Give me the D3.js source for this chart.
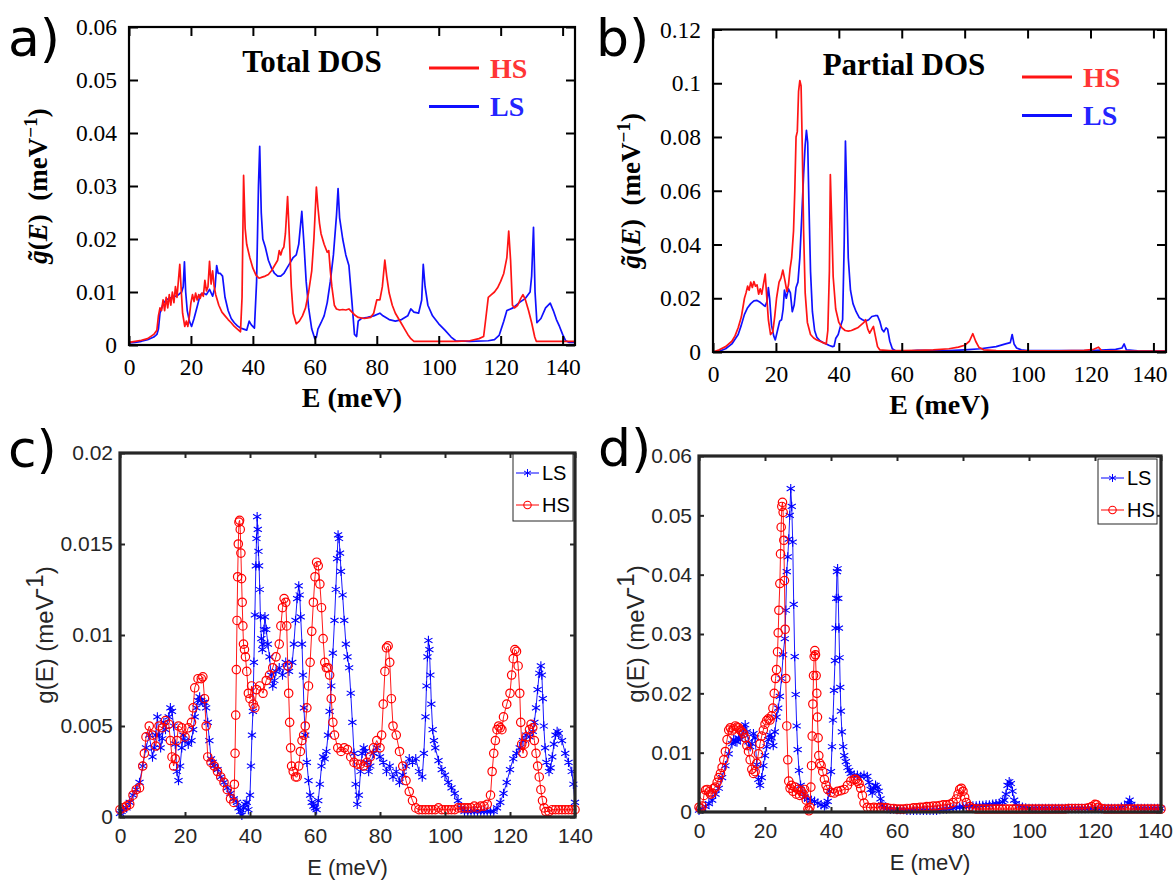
<!DOCTYPE html>
<html><head><meta charset="utf-8">
<script src="https://cdn.jsdelivr.net/npm/d3@7"></script>
<style>
html,body{margin:0;padding:0;background:#fff;}
svg{display:block;}
text{white-space:pre;}
</style></head>
<body>
<svg id="chart" width="1174" height="881"></svg>
<script>
// ---------------- DATA ----------------
const xTicks = [0, 20, 40, 60, 80, 100, 120, 140];
const yTicksA = [0, 0.01, 0.02, 0.03, 0.04, 0.05, 0.06];
const yTicksB = [0, 0.02, 0.04, 0.06, 0.08, 0.1, 0.12];
const yTicksC = [0, 0.005, 0.01, 0.015, 0.02];
const yTicksD = [0, 0.01, 0.02, 0.03, 0.04, 0.05, 0.06];
const seriesNames = ["HS", "LS"];

// (a) Total DOS  [E (meV), g (meV^-1)]
const totalHS = [[0,0.0005],[2,0.0007],[4,0.0009],[6,0.0012],[8,0.002],[9,0.0028],[9.5,0.0055],[10,0.007],[10.5,0.0065],[11,0.0085],[11.5,0.0065],[12,0.009],[12.5,0.007],[13,0.0095],[13.5,0.0075],[14,0.01],[14.5,0.008],[15,0.011],[15.5,0.009],[16,0.0125],[16.4,0.0152],[16.8,0.011],[17.3,0.006],[18,0.0035],[18.5,0.0045],[19,0.0035],[19.5,0.0055],[20,0.008],[20.5,0.0095],[21,0.0082],[21.5,0.0098],[22,0.0085],[22.5,0.0095],[23,0.0088],[23.5,0.0098],[24,0.0092],[24.5,0.0122],[25,0.0102],[25.5,0.011],[26,0.0158],[26.5,0.0115],[27,0.014],[27.5,0.011],[28,0.0095],[29,0.0075],[30,0.0062],[31,0.0055],[32,0.0048],[33,0.0042],[34,0.0035],[35,0.003],[36,0.0025],[36.5,0.009],[37,0.032],[37.5,0.022],[38,0.019],[39,0.0165],[40,0.0145],[41,0.0132],[42,0.0126],[43,0.0128],[44,0.013],[45,0.0133],[46,0.014],[47,0.015],[48,0.016],[48.5,0.0178],[49,0.017],[49.5,0.018],[50,0.0185],[50.5,0.021],[51.2,0.028],[51.8,0.02],[52.4,0.011],[53,0.006],[54,0.004],[55,0.0045],[56,0.0055],[57,0.007],[58,0.01],[59,0.014],[59.7,0.02],[60.5,0.0298],[61,0.026],[61.5,0.023],[62,0.021],[63,0.019],[64,0.0175],[64.5,0.0178],[65,0.014],[65.5,0.011],[66.3,0.0075],[67,0.0068],[68,0.0066],[69,0.0067],[70,0.0066],[71,0.0068],[72,0.0062],[73,0.0056],[74,0.0052],[76,0.005],[78,0.0052],[79,0.006],[80,0.0085],[81,0.0085],[81.8,0.011],[82.6,0.016],[83.2,0.013],[84,0.0098],[85,0.0075],[86,0.006],[87,0.005],[88,0.004],[89,0.003],[90,0.002],[91,0.0012],[92,0.0007],[100,0.0007],[106,0.0007],[110,0.0008],[113,0.0012],[114.5,0.0016],[115.2,0.005],[116,0.009],[117,0.0095],[118,0.01],[119,0.0108],[120,0.012],[121,0.0135],[122,0.0165],[122.6,0.0215],[123.2,0.016],[123.8,0.0075],[124.5,0.007],[125.5,0.0075],[126.5,0.0088],[127.2,0.0095],[128,0.0085],[129,0.0065],[130,0.0042],[131,0.0015],[131.5,0.0007],[135,0.0007],[140,0.0007],[144,0.0007]];
const totalLS = [[0,0.0004],[2,0.0005],[4,0.0007],[6,0.001],[8,0.0015],[9,0.002],[9.5,0.003],[10,0.006],[11,0.0078],[12,0.0085],[13,0.0088],[14,0.009],[15,0.0092],[16,0.0095],[17,0.01],[17.5,0.011],[17.9,0.0157],[18.3,0.01],[18.8,0.0065],[19.5,0.0045],[20.2,0.0035],[21,0.005],[22,0.0072],[23,0.0095],[24,0.0098],[25,0.0095],[26,0.0105],[27,0.0092],[27.8,0.011],[28.3,0.015],[28.8,0.0135],[29.5,0.0135],[30.2,0.013],[31,0.009],[32,0.0065],[33,0.005],[34,0.0042],[35,0.0036],[36,0.0032],[37,0.003],[38,0.0028],[38.8,0.0045],[39.5,0.0038],[40.5,0.0032],[41.2,0.012],[41.8,0.03],[42.2,0.0375],[42.7,0.025],[43.2,0.02],[44,0.0185],[45,0.016],[46,0.0145],[47,0.0135],[48,0.013],[49,0.013],[50,0.0135],[51,0.0145],[52,0.0155],[53,0.0165],[54,0.017],[54.8,0.019],[55.8,0.0252],[56.5,0.019],[57.2,0.012],[58,0.007],[59,0.003],[60,0.0012],[60.5,0.0015],[61,0.003],[62,0.0042],[63,0.0055],[64,0.008],[65,0.012],[66,0.017],[67,0.0245],[67.5,0.0295],[68,0.024],[69,0.02],[70,0.017],[71,0.015],[72,0.008],[72.8,0.002],[73.5,0.0016],[74,0.0045],[75,0.005],[77,0.0052],[79,0.0055],[81,0.006],[82,0.0055],[84,0.0048],[86,0.0045],[88,0.0048],[90,0.0055],[91,0.0068],[92,0.0062],[93.5,0.006],[94.5,0.0085],[95,0.0152],[95.6,0.011],[96.5,0.0075],[98,0.0055],[100,0.004],[102,0.0028],[104,0.0015],[105.5,0.0008],[110,0.0007],[116,0.0008],[118,0.001],[119.5,0.0018],[121,0.0045],[122,0.0065],[124,0.007],[126,0.008],[128,0.0088],[129.5,0.01],[130,0.013],[130.6,0.0222],[131.1,0.01],[131.7,0.0042],[133,0.005],[134.5,0.007],[136,0.0079],[137,0.0065],[138,0.0048],[139,0.0035],[140,0.002],[141,0.0008],[142,0.0005],[144,0.0005]];

// (b) Partial DOS
const partialHS = [[0,0],[2,0.0008],[4,0.002],[6,0.004],[7,0.006],[8,0.009],[9,0.013],[10,0.02],[10.5,0.022],[11,0.0245],[11.5,0.023],[12,0.026],[12.5,0.024],[13,0.0262],[13.5,0.0245],[14,0.025],[14.5,0.0215],[15,0.0235],[15.5,0.0215],[16,0.025],[16.6,0.029],[17,0.022],[17.6,0.012],[18.3,0.0065],[19,0.0075],[19.6,0.013],[20.2,0.02],[21,0.026],[21.6,0.0275],[22.2,0.0305],[22.8,0.027],[23.5,0.0225],[24,0.025],[24.5,0.031],[25,0.035],[25.6,0.045],[26,0.06],[26.4,0.08],[26.8,0.082],[27.2,0.097],[27.6,0.101],[28,0.099],[28.4,0.075],[28.8,0.045],[29.3,0.022],[30,0.011],[31,0.0065],[32,0.0052],[33,0.0045],[34,0.004],[35,0.0035],[36,0.003],[36.5,0.008],[37,0.03],[37.3,0.066],[37.7,0.05],[38.2,0.028],[39,0.016],[40,0.011],[41,0.009],[42,0.008],[43,0.0078],[44,0.008],[45,0.0085],[46,0.009],[47,0.01],[48,0.011],[48.5,0.012],[49.2,0.0085],[49.8,0.007],[50.5,0.0085],[51,0.0095],[51.6,0.006],[52.3,0.002],[53,0.0008],[56,0.0005],[60,0.0005],[65,0.0006],[70,0.0008],[75,0.0012],[78,0.0018],[80,0.0025],[81.5,0.004],[82.6,0.0068],[83.5,0.004],[84.5,0.0018],[86,0.0008],[90,0.0005],[100,0.0004],[110,0.0004],[118,0.0006],[121,0.001],[122.5,0.0018],[123.5,0.0005],[130,0.0003],[144,0.0003]];
const partialLS = [[0,0],[2,0.0003],[4,0.0012],[6,0.003],[8,0.0065],[9,0.01],[10,0.014],[11,0.0165],[12,0.018],[13,0.019],[14,0.0192],[15,0.0185],[16,0.0175],[16.6,0.017],[17.2,0.019],[17.6,0.024],[18,0.02],[18.6,0.01],[19.3,0.006],[19.8,0.0045],[20.5,0.008],[21.2,0.0115],[21.8,0.012],[22.3,0.016],[22.7,0.023],[23.3,0.02],[24,0.0235],[24.6,0.022],[25.2,0.015],[25.8,0.0175],[26.4,0.024],[27,0.026],[27.6,0.035],[28.2,0.05],[28.8,0.066],[29.3,0.077],[29.7,0.0825],[30.1,0.078],[30.5,0.055],[31,0.03],[31.6,0.015],[32.3,0.008],[33,0.0055],[34,0.0042],[35,0.0035],[36,0.003],[37,0.0024],[38,0.002],[38.5,0.0022],[39,0.005],[39.8,0.0065],[40.5,0.0095],[41.2,0.012],[41.7,0.04],[42.1,0.0785],[42.5,0.06],[43,0.035],[43.7,0.023],[44.5,0.018],[45.5,0.015],[46.5,0.0128],[47.5,0.012],[48.5,0.0115],[49.5,0.012],[50.5,0.0132],[51.5,0.0135],[52.3,0.0135],[53,0.0115],[53.7,0.0085],[54.3,0.0075],[55,0.009],[55.5,0.0085],[56.2,0.004],[57,0.0012],[58,0.0005],[62,0.0003],[65,0.0006],[70,0.0005],[75,0.0005],[80,0.0008],[85,0.0012],[90,0.002],[93,0.003],[94.5,0.0035],[95.1,0.0065],[95.7,0.003],[96.5,0.0015],[98,0.0008],[100,0.0005],[110,0.0005],[120,0.0005],[125,0.0008],[128,0.001],[130,0.0015],[130.7,0.003],[131.4,0.0008],[135,0.0004],[144,0.0003]];

// (c) g(E) total, marker series
const gTotalLS = [[0,0.0002],[0.5,0.0003],[1,0.0004],[2,0.0005],[3,0.0008],[4,0.0012],[5,0.0015],[6,0.0019],[7,0.0028],[8,0.0038],[9,0.0045],[10,0.0033],[10.5,0.0038],[11,0.0045],[11.5,0.0055],[12,0.0045],[12.5,0.0038],[13,0.0043],[13.5,0.0052],[14,0.0048],[15,0.0055],[15.5,0.006],[16,0.0058],[16.5,0.005],[17,0.004],[17.5,0.0025],[18,0.002],[18.5,0.0028],[19,0.0038],[19.5,0.0045],[20,0.0042],[21,0.004],[22,0.0042],[22.5,0.0048],[23,0.0055],[23.5,0.006],[24,0.0064],[24.5,0.0066],[25,0.0064],[25.5,0.0063],[26,0.0063],[26.5,0.006],[27,0.0052],[27.5,0.0042],[28,0.0032],[28.5,0.003],[29,0.0028],[30,0.0026],[31,0.0022],[32,0.0019],[33,0.0016],[34,0.0013],[35,0.001],[36,0.0008],[36.5,0.0005],[37,0.0003],[37.5,0.0001],[38,0.0005],[38.5,0.0007],[39,0.0008],[39.5,0.0004],[40,0.0012],[40.3,0.0028],[40.6,0.0045],[40.9,0.0058],[41.2,0.0085],[41.5,0.0111],[41.8,0.0138],[42,0.0153],[42.2,0.0165],[42.4,0.0158],[42.6,0.0146],[42.8,0.0138],[43,0.0125],[43.2,0.011],[43.5,0.0098],[43.8,0.0092],[44,0.0095],[44.3,0.0103],[44.6,0.011],[45,0.0103],[45.5,0.0095],[46,0.0088],[46.5,0.0078],[47,0.0072],[47.5,0.0075],[48,0.008],[49,0.0082],[50,0.0078],[51,0.0085],[52,0.008],[53,0.0085],[53.5,0.0095],[54,0.0108],[54.5,0.012],[55,0.0127],[55.3,0.0122],[55.6,0.011],[56,0.0095],[56.3,0.0078],[56.6,0.006],[57,0.0045],[57.5,0.003],[58,0.002],[58.5,0.0012],[59,0.0008],[59.5,0.0006],[60,0.0005],[60.5,0.0004],[61,0.0009],[61.5,0.0018],[62,0.0028],[62.5,0.0033],[63,0.0032],[63.5,0.0036],[64,0.0045],[64.5,0.0058],[65,0.0072],[65.5,0.009],[66,0.0108],[66.4,0.0125],[66.8,0.0142],[67.1,0.0155],[67.4,0.0153],[67.7,0.0145],[68,0.0135],[68.5,0.0122],[69,0.0108],[69.5,0.0095],[70,0.0088],[70.5,0.0082],[71,0.0068],[71.5,0.0052],[72,0.0035],[72.5,0.0018],[73,0.0007],[73.5,0.0012],[74,0.0025],[74.5,0.0035],[75,0.0038],[75.5,0.0036],[76,0.003],[76.5,0.0025],[77,0.0028],[78,0.0035],[79,0.0038],[80,0.0033],[81,0.003],[82,0.0025],[83,0.0028],[84,0.0022],[85,0.0025],[86,0.0019],[87,0.0023],[88,0.0028],[89,0.0032],[90,0.003],[91,0.0032],[92,0.0025],[93,0.0022],[93.5,0.0035],[94,0.0055],[94.3,0.0072],[94.6,0.0088],[94.9,0.0097],[95.2,0.0092],[95.5,0.0078],[95.8,0.0062],[96.2,0.0048],[96.6,0.0042],[97,0.0038],[98,0.0031],[99,0.0026],[100,0.0023],[101,0.0019],[102,0.0016],[103,0.0013],[104,0.0009],[105,0.0005],[106,0.0003],[107,0.0003],[108,0.0003],[109,0.0003],[110,0.0003],[111,0.0003],[112,0.0003],[113,0.0003],[114,0.0003],[115,0.0003],[116,0.0005],[117,0.0008],[118,0.0013],[119,0.0019],[120,0.0026],[121,0.0032],[122,0.0035],[123,0.0038],[124,0.0042],[125,0.0045],[126,0.0044],[127,0.0047],[127.5,0.0052],[128,0.006],[128.5,0.007],[129,0.0079],[129.5,0.0083],[129.8,0.0078],[130.1,0.0065],[130.4,0.005],[130.8,0.0038],[131.2,0.003],[132,0.0025],[132.5,0.0027],[133,0.0033],[133.5,0.004],[134,0.0045],[134.5,0.0047],[135,0.0046],[136,0.0042],[137,0.0035],[138,0.003],[139,0.0025],[139.5,0.0018],[140,0.0008]];
const gTotalHS = [[0,0.0004],[1,0.0005],[2,0.0006],[3,0.0007],[4,0.0012],[5,0.0015],[6,0.0016],[7,0.0028],[7.5,0.0035],[8,0.0044],[9,0.005],[10,0.0045],[11,0.0039],[12,0.005],[13,0.0049],[14,0.0053],[15,0.0051],[15.5,0.0042],[16,0.0033],[16.5,0.0028],[17,0.0032],[17.5,0.0042],[18,0.005],[19,0.0049],[20,0.0044],[21,0.0049],[22,0.0052],[22.5,0.006],[23,0.0071],[24,0.0076],[25,0.0076],[25.5,0.0077],[26,0.0065],[26.5,0.005],[27,0.0033],[28,0.003],[29,0.0028],[30,0.0025],[31,0.0022],[32,0.0019],[33,0.0015],[34,0.001],[35,0.0008],[35.2,0.0018],[35.4,0.0035],[35.6,0.0056],[35.8,0.0081],[36,0.0108],[36.2,0.0132],[36.4,0.015],[36.6,0.0162],[36.8,0.0163],[37,0.0158],[37.2,0.0145],[37.4,0.0131],[37.6,0.0118],[37.8,0.0105],[38,0.0095],[38.3,0.0092],[38.6,0.0088],[39,0.008],[39.5,0.0068],[40,0.0065],[40.5,0.0072],[41,0.0062],[41.5,0.006],[42,0.007],[43,0.0072],[44,0.0068],[45,0.0075],[46,0.0078],[47,0.0082],[48,0.0088],[49,0.0095],[49.5,0.0105],[50,0.0115],[50.5,0.012],[51,0.0118],[51.3,0.0105],[51.6,0.0083],[51.9,0.0068],[52.2,0.0052],[52.5,0.0038],[52.8,0.0028],[53.3,0.0025],[54,0.0022],[54.5,0.0022],[55,0.0028],[55.5,0.0036],[56,0.0042],[56.5,0.0045],[57,0.005],[57.5,0.006],[58,0.0072],[58.5,0.0085],[59,0.0102],[59.5,0.0118],[60,0.0132],[60.5,0.014],[61,0.0138],[61.5,0.0128],[62,0.0115],[62.5,0.0098],[63,0.0085],[63.5,0.0082],[64,0.0082],[64.5,0.0078],[65,0.0065],[65.5,0.0052],[66,0.0045],[67,0.0038],[68,0.0036],[69,0.0038],[70,0.0037],[71,0.0033],[72,0.003],[73,0.0029],[74,0.0029],[75,0.0028],[76,0.003],[77,0.0033],[78,0.0038],[79,0.0042],[80,0.0038],[80.5,0.0045],[81,0.0062],[81.5,0.008],[82,0.0093],[82.5,0.0094],[83,0.0085],[83.5,0.0065],[84,0.005],[85,0.0045],[86,0.0036],[87,0.0028],[88,0.002],[89,0.0014],[90,0.0009],[91,0.0005],[92,0.0004],[93,0.0004],[94,0.0004],[95,0.0004],[96,0.0004],[97,0.0004],[98,0.0005],[99,0.0004],[100,0.0004],[101,0.0004],[102,0.0004],[103,0.0004],[104,0.0005],[105,0.0005],[106,0.0005],[107,0.0005],[108,0.0005],[109,0.0006],[110,0.0005],[111,0.0006],[112,0.0006],[113,0.0007],[114,0.0012],[114.5,0.0025],[115,0.0035],[115.5,0.0042],[116,0.0048],[116.5,0.005],[117,0.0049],[117.5,0.0048],[118,0.0055],[119,0.0062],[120,0.0068],[120.5,0.0078],[121,0.0087],[121.5,0.0092],[122,0.0091],[122.5,0.0083],[123,0.0068],[123.3,0.0052],[123.6,0.004],[124,0.0035],[124.5,0.004],[125,0.0044],[126,0.0048],[126.5,0.0051],[127,0.0049],[127.5,0.0042],[128,0.0035],[128.5,0.0028],[129,0.0022],[129.5,0.0015],[130,0.0009],[130.5,0.0005],[131,0.0003],[132,0.0003],[133,0.0004],[134,0.0004],[135,0.0004],[136,0.0004],[137,0.0004],[138,0.0004],[139,0.0004],[140,0.0004]];

// (d) g(E) partial, marker series
const gPartialLS = [[0,0.0003],[1,0.0005],[2,0.0009],[3,0.0014],[4,0.002],[5,0.003],[6,0.004],[7,0.0058],[8,0.0078],[9,0.0098],[10,0.0115],[10.5,0.0122],[11,0.012],[11.5,0.0118],[12,0.0125],[12.5,0.0122],[13,0.013],[13.5,0.014],[14,0.0147],[14.5,0.0135],[15,0.0118],[15.5,0.011],[16,0.0115],[16.5,0.0132],[17,0.0125],[17.5,0.008],[18,0.0055],[18.5,0.0045],[19,0.0058],[19.5,0.0078],[20,0.0095],[20.5,0.011],[21,0.0122],[21.5,0.013],[22,0.0125],[22.5,0.0112],[23,0.0135],[23.5,0.016],[24,0.0175],[24.5,0.0195],[25,0.0225],[25.5,0.0265],[26,0.0292],[26.3,0.034],[26.6,0.0405],[26.9,0.043],[27.2,0.046],[27.5,0.05],[27.8,0.0545],[28.1,0.0515],[28.4,0.0455],[28.7,0.035],[29,0.0262],[29.3,0.0198],[29.6,0.0145],[29.9,0.0105],[30.3,0.007],[30.8,0.0045],[31.5,0.0032],[32,0.0025],[33,0.0022],[34,0.002],[35,0.0018],[36,0.0015],[37,0.0012],[38,0.001],[38.5,0.0012],[39,0.0018],[39.5,0.0035],[40,0.0068],[40.3,0.011],[40.6,0.0155],[40.9,0.0205],[41.2,0.0255],[41.4,0.031],[41.6,0.036],[41.8,0.0405],[42,0.041],[42.2,0.036],[42.4,0.031],[42.6,0.026],[42.8,0.021],[43,0.017],[43.3,0.0135],[43.7,0.011],[44,0.0095],[44.5,0.0085],[45,0.0075],[45.5,0.007],[46,0.0065],[47,0.0062],[48,0.0062],[49,0.006],[50,0.0062],[51,0.006],[51.5,0.005],[52,0.0038],[52.5,0.0032],[53,0.004],[53.5,0.0045],[54,0.0042],[54.5,0.0035],[55,0.0022],[55.5,0.0012],[56,0.0008],[57,0.0006],[58,0.0005],[59,0.0005],[60,0.0004],[61,0.0004],[62,0.0004],[63,0.0003],[64,0.0003],[65,0.0003],[66,0.0003],[67,0.0003],[68,0.0003],[69,0.0003],[70,0.0003],[71,0.0003],[72,0.0003],[73,0.0004],[74,0.0005],[75,0.0005],[76,0.0006],[77,0.0007],[78,0.0008],[79,0.0008],[80,0.0009],[81,0.0009],[82,0.001],[83,0.001],[84,0.001],[85,0.0011],[86,0.0011],[87,0.0012],[88,0.0012],[89,0.0013],[90,0.0014],[91,0.0015],[92,0.0017],[92.5,0.002],[93,0.003],[93.5,0.0045],[94,0.0051],[94.5,0.0048],[95,0.0035],[95.5,0.002],[96,0.0014],[97,0.001],[98,0.0008],[99,0.0007],[100,0.0006],[101,0.0006],[102,0.0006],[103,0.0006],[104,0.0006],[105,0.0006],[106,0.0006],[107,0.0006],[108,0.0006],[109,0.0006],[110,0.0006],[111,0.0006],[112,0.0006],[113,0.0006],[114,0.0006],[115,0.0006],[116,0.0006],[117,0.0006],[118,0.0006],[119,0.0006],[120,0.0006],[121,0.0006],[122,0.0006],[123,0.0006],[124,0.0006],[125,0.0006],[126,0.0006],[127,0.0006],[128,0.0008],[129,0.001],[130,0.0015],[130.5,0.002],[131,0.0013],[132,0.0007],[133,0.0006],[134,0.0006],[135,0.0006],[136,0.0006],[137,0.0006],[138,0.0006],[139,0.0006],[140,0.0006]];
const gPartialHS = [[0,0.0008],[0.5,0.0006],[1,0.001],[1.5,0.0028],[2,0.0037],[2.5,0.0038],[3,0.0034],[3.5,0.003],[4,0.0032],[4.5,0.004],[5,0.0042],[5.5,0.005],[6,0.0058],[6.5,0.0065],[7,0.0075],[7.5,0.0088],[8,0.0102],[8.5,0.0122],[9,0.0138],[9.5,0.0142],[10,0.0137],[10.5,0.014],[11,0.0145],[11.5,0.0143],[12,0.0142],[12.5,0.0138],[13,0.0135],[13.5,0.0132],[14,0.0125],[14.5,0.0112],[15,0.0102],[15.5,0.0088],[16,0.0072],[16.5,0.0065],[17,0.0068],[17.5,0.0082],[18,0.0098],[18.5,0.0115],[19,0.0128],[19.5,0.0138],[20,0.0148],[20.5,0.0154],[21,0.0157],[21.5,0.0155],[22,0.0162],[22.4,0.0175],[22.8,0.02],[23.2,0.0225],[23.5,0.024],[23.8,0.027],[24,0.0302],[24.2,0.034],[24.5,0.0385],[24.7,0.0435],[24.9,0.048],[25.1,0.0515],[25.3,0.0522],[25.5,0.0505],[25.7,0.0458],[25.9,0.039],[26.1,0.0308],[26.3,0.0225],[26.6,0.0145],[26.9,0.0088],[27.2,0.0052],[27.6,0.004],[28,0.0045],[28.5,0.0035],[29,0.0042],[29.5,0.003],[30,0.0038],[30.5,0.0028],[31,0.0035],[31.5,0.003],[32,0.0038],[32.5,0.002],[33,0.0005],[33.3,0.0002],[33.6,0.0008],[33.9,0.0042],[34.1,0.0078],[34.3,0.0128],[34.5,0.0182],[34.7,0.023],[34.9,0.0262],[35.1,0.0272],[35.3,0.0265],[35.5,0.023],[35.7,0.02],[35.9,0.016],[36.1,0.0125],[36.3,0.0095],[36.6,0.0082],[37,0.0078],[37.5,0.0068],[38,0.0055],[38.5,0.0045],[39,0.0038],[40,0.0033],[41,0.0032],[42,0.0035],[43,0.0036],[44,0.0038],[45,0.0045],[46,0.0052],[47,0.0055],[47.5,0.0055],[48,0.0052],[48.5,0.0048],[49,0.004],[49.5,0.0028],[50,0.0015],[51,0.0008],[52,0.0007],[53,0.0008],[54,0.0007],[55,0.0008],[56,0.0007],[57,0.0007],[58,0.0006],[59,0.0006],[60,0.0005],[61,0.0005],[62,0.0005],[63,0.0006],[64,0.0006],[65,0.0007],[66,0.0007],[67,0.0008],[68,0.0008],[69,0.0009],[70,0.0009],[71,0.001],[72,0.001],[73,0.0011],[74,0.0012],[75,0.0012],[76,0.0013],[77,0.0016],[78,0.0022],[78.5,0.003],[79,0.0038],[79.5,0.004],[80,0.0035],[80.5,0.0025],[81,0.0016],[82,0.0009],[83,0.0006],[84,0.0005],[85,0.0005],[86,0.0005],[87,0.0005],[88,0.0005],[89,0.0005],[90,0.0005],[91,0.0005],[92,0.0005],[93,0.0005],[94,0.0005],[95,0.0005],[96,0.0005],[97,0.0005],[98,0.0005],[99,0.0005],[100,0.0005],[101,0.0005],[102,0.0005],[103,0.0005],[104,0.0005],[105,0.0005],[106,0.0005],[107,0.0005],[108,0.0005],[109,0.0005],[110,0.0005],[111,0.0005],[112,0.0006],[113,0.0006],[114,0.0006],[115,0.0006],[116,0.0006],[117,0.0006],[118,0.0007],[119,0.0009],[120,0.0013],[120.5,0.0012],[121,0.0008],[122,0.0006],[123,0.0005],[124,0.0005],[125,0.0005],[126,0.0005],[127,0.0005],[128,0.0005],[129,0.0005],[130,0.0005],[131,0.0005],[132,0.0005],[133,0.0005],[134,0.0005],[135,0.0005],[136,0.0005],[137,0.0005],[138,0.0005],[139,0.0005],[140,0.0005]];

// ---------------- DRAWING ----------------
const svg = d3.select("#chart");
const RED = "#ff1414", BLUE = "#1010ff";
const SERIF = "'Liberation Serif','Times New Roman',serif";
const SANS = "'Liberation Sans',Arial,sans-serif";

function fmt(dec) { return d => d === 0 ? "0" : d3.format("." + dec + "~f")(d); }

function styleAxis(g, opt) {
  g.select(".domain").remove();
  g.selectAll(".tick line").attr("stroke", opt.color).attr("stroke-width", opt.tickW);
  g.selectAll("text").attr("fill", opt.color).style("font-family", opt.font)
    .style("font-size", opt.size + "px").style("font-weight", opt.weight || "normal");
}

function frameAxes(g, x, y, P, o) {
  const common = {color: o.color, tickW: o.tickW, font: o.font, size: o.tickFont};
  const xb = g.append("g").attr("transform", `translate(0,${P.bottom})`)
    .call(d3.axisBottom(x).tickValues(xTicks).tickSize(-o.tickLen).tickSizeOuter(0).tickPadding(o.xPad).tickFormat(d3.format("d")))
    .call(s => styleAxis(s, common));
  if (P.lastDx) xb.selectAll(".tick text").filter(d => d === xTicks[xTicks.length - 1]).attr("dx", P.lastDx);
  g.append("g").attr("transform", `translate(0,${P.top})`)
    .call(d3.axisTop(x).tickValues(xTicks).tickSize(-o.tickLen).tickSizeOuter(0).tickFormat(""))
    .call(s => styleAxis(s, common));
  g.append("g").attr("transform", `translate(${P.left},0)`)
    .call(d3.axisLeft(y).tickValues(o.yTicks).tickSize(-o.tickLen).tickSizeOuter(0).tickPadding(o.yPad).tickFormat(fmt(o.dec)))
    .call(s => styleAxis(s, common));
  g.append("g").attr("transform", `translate(${P.right},0)`)
    .call(d3.axisRight(y).tickValues(o.yTicks).tickSize(-o.tickLen).tickSizeOuter(0).tickFormat(""))
    .call(s => styleAxis(s, common));
  g.append("rect").attr("x", P.left).attr("y", P.top)
    .attr("width", P.right - P.left).attr("height", P.bottom - P.top)
    .attr("fill", "none").attr("stroke", o.color).attr("stroke-width", o.frameW);
}

function serifPanel(P) {
  const g = svg.append("g");
  const x = d3.scaleLinear().domain([0, 144]).range([P.left, P.right]);
  const y = d3.scaleLinear().domain([0, P.yMax]).range([P.bottom, P.top]);
  const line = d3.line().x(d => x(d[0])).y(d => y(d[1]));
  g.append("path").datum(P.ls).attr("d", line).attr("fill", "none").attr("stroke", BLUE).attr("stroke-width", 1.7).attr("stroke-linejoin", "round");
  g.append("path").datum(P.hs).attr("d", line).attr("fill", "none").attr("stroke", RED).attr("stroke-width", 1.7).attr("stroke-linejoin", "round");
  frameAxes(g, x, y, P, {color: "#000", tickW: 2, frameW: 2.2, tickLen: 9, font: SERIF, tickFont: 23.5, xPad: 13, yPad: 12, yTicks: P.yTicks, dec: P.dec});
  g.append("text").attr("x", P.letterX).attr("y", 56).text(P.letter)
    .style("font-family", "'DejaVu Sans',sans-serif").style("font-size", "52px").attr("fill", "#000");
  g.append("text").attr("x", P.titleX).attr("y", P.titleY).attr("text-anchor", "middle").text(P.title)
    .style("font-family", SERIF).style("font-weight", "bold").style("font-size", "31px");
  const lg = [{name: seriesNames[0], color: RED, col2: "#ff3535"}, {name: seriesNames[1], color: BLUE, col2: "#2424ff"}];
  lg.forEach((d, i) => {
    const ly = P.legY + i * P.legGap;
    g.append("line").attr("x1", P.legX).attr("x2", P.legX + 50).attr("y1", ly).attr("y2", ly)
      .attr("stroke", d.color).attr("stroke-width", 3.2);
    g.append("text").attr("x", P.legX + 61).attr("y", ly + 9.5).text(d.name).attr("fill", d.col2)
      .style("font-family", SERIF).style("font-weight", "bold").style("font-size", "28px");
  });
  g.append("text").attr("x", (P.left + P.right) / 2).attr("y", P.bottom + 62).attr("text-anchor", "middle")
    .text("E (meV)").style("font-family", SERIF).style("font-weight", "bold").style("font-size", "28px");
  const yl = g.append("text").attr("transform", `translate(${P.ylX},${(P.top + P.bottom) / 2}) rotate(-90)`)
    .attr("text-anchor", "middle").style("font-family", SERIF).style("font-weight", "bold").style("font-size", "27px");
  yl.append("tspan").style("font-style", "italic").text("g\u0303");
  yl.append("tspan").text("(");
  yl.append("tspan").style("font-style", "italic").text("E");
  yl.append("tspan").text(")  (meV");
  yl.append("tspan").attr("dy", -10).style("font-size", "19px").text("\u22121");
  yl.append("tspan").attr("dy", 10).text(")");
}

function matlabPanel(P) {
  const g = svg.append("g");
  const x = d3.scaleLinear().domain([0, 140]).range([P.left, P.right]);
  const y = d3.scaleLinear().domain([0, P.yMax]).range([P.bottom, P.top]);
  const line = d3.line().x(d => x(d[0])).y(d => y(d[1]));
  const star = d3.symbol().type(d3.symbolAsterisk).size(62);
  g.append("path").datum(P.ls).attr("d", line).attr("fill", "none").attr("stroke", "#0000ff").attr("stroke-width", 0.9);
  g.append("g").selectAll("path").data(P.ls).join("path")
    .attr("transform", d => `translate(${x(d[0])},${y(d[1])})`).attr("d", star)
    .attr("fill", "none").attr("stroke", "#0000ff").attr("stroke-width", 1.1);
  g.append("path").datum(P.hs).attr("d", line).attr("fill", "none").attr("stroke", "#ff0000").attr("stroke-width", 0.9);
  g.append("g").selectAll("circle").data(P.hs).join("circle")
    .attr("cx", d => x(d[0])).attr("cy", d => y(d[1])).attr("r", 4.2)
    .attr("fill", "none").attr("stroke", "#ff0000").attr("stroke-width", 1.2);
  frameAxes(g, x, y, P, {color: "#262626", tickW: 2, frameW: 3.2, tickLen: 5, font: SANS, tickFont: 21, xPad: 11, yPad: 7, yTicks: P.yTicks, dec: P.dec});
  const L = P.leg;
  g.append("rect").attr("x", L.x).attr("y", L.y).attr("width", L.w).attr("height", L.h)
    .attr("fill", "#fff").attr("stroke", "#262626").attr("stroke-width", 1);
  const starL = d3.symbol().type(d3.symbolAsterisk).size(44);
  [{name: "LS", color: "#0000ff", m: "star"}, {name: "HS", color: "#ff0000", m: "circle"}].forEach((d, i) => {
    const ly = L.y + 19 + i * 32;
    g.append("line").attr("x1", L.x + 3).attr("x2", L.x + 26).attr("y1", ly).attr("y2", ly).attr("stroke", d.color).attr("stroke-width", 1);
    if (d.m === "star") g.append("path").attr("transform", `translate(${L.x + 14.5},${ly})`).attr("d", starL).attr("fill", "none").attr("stroke", d.color).attr("stroke-width", 1);
    else g.append("circle").attr("cx", L.x + 14.5).attr("cy", ly).attr("r", 3.7).attr("fill", "none").attr("stroke", d.color).attr("stroke-width", 1.1);
    g.append("text").attr("x", L.x + 29).attr("y", ly + 7).text(d.name).attr("fill", "#000")
      .style("font-family", SANS).style("font-size", "20px");
  });
  g.append("text").attr("x", P.letterX).attr("y", P.letterY).text(P.letter)
    .style("font-family", "'DejaVu Sans',sans-serif").style("font-size", "52px").attr("fill", "#000");
  g.append("text").attr("x", (P.left + P.right) / 2).attr("y", P.xlY).attr("text-anchor", "middle")
    .text("E (meV)").attr("fill", "#262626").style("font-family", SANS).style("font-size", "22px");
  const yl = g.append("text").attr("transform", `translate(${P.ylX},${(P.top + P.bottom) / 2}) rotate(-90)`)
    .attr("text-anchor", "middle").attr("fill", "#262626").style("font-family", SANS).style("font-size", "24px");
  yl.append("tspan").text("g(E) (meV");
  yl.append("tspan").attr("dy", -10).text("-1");
  yl.append("tspan").attr("dy", 10).text(")");
}

serifPanel({left: 129, right: 575, top: 27, bottom: 345, yMax: 0.06, yTicks: yTicksA, dec: 2,
  hs: totalHS, ls: totalLS, letter: "a)", letterX: 8, title: "Total DOS", titleX: 312, titleY: 72,
  legX: 429, legY: 68, legGap: 38.5, ylX: 47});
serifPanel({left: 713, right: 1166, top: 29.5, bottom: 352, yMax: 0.12, yTicks: yTicksB, dec: 2,
  hs: partialHS, ls: partialLS, letter: "b)", letterX: 596, title: "Partial DOS", titleX: 904, titleY: 75,
  legX: 1022, legY: 77, legGap: 38.5, ylX: 640, lastDx: -4});
matlabPanel({left: 120, right: 575, top: 453, bottom: 817, yMax: 0.02, yTicks: yTicksC, dec: 3,
  hs: gTotalHS, ls: gTotalLS, letter: "c)", letterX: 8, letterY: 467, xlY: 875,
  leg: {x: 513, y: 454, w: 60, h: 67}, ylX: 53});
matlabPanel({left: 699, right: 1161, top: 456, bottom: 812, yMax: 0.06, yTicks: yTicksD, dec: 2,
  hs: gPartialHS, ls: gPartialLS, letter: "d)", letterX: 598, letterY: 466, xlY: 870,
  leg: {x: 1098, y: 459, w: 59, h: 65}, ylX: 644, lastDx: -6});
</script>
</body></html>
